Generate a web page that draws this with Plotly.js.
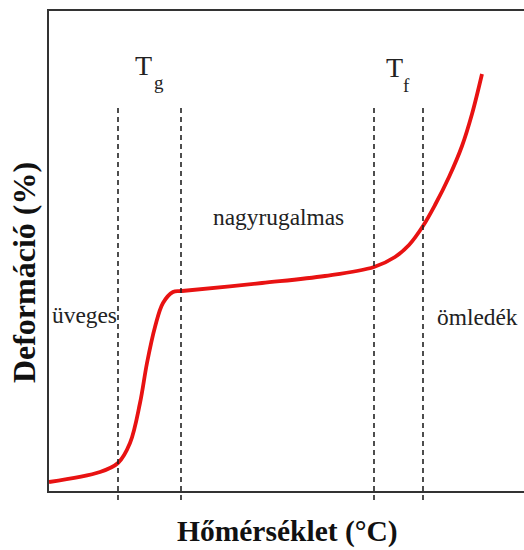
<!DOCTYPE html>
<html>
<head>
<meta charset="utf-8">
<script src="https://cdn.plot.ly/plotly-3.0.1.min.js"></script>
<style>html,body{margin:0;padding:0;background:#fff;}#chart{width:524px;height:550px;}</style>
</head>
<body>
<div id="chart"></div>
<script>
// Curve data (arbitrary units)
const temperature = [0, 51, 69, 81, 91, 98, 106, 114, 124, 133, 213, 276, 325, 346, 360, 374, 386, 400, 413, 423, 433];
const deformation = [9, 19, 28, 48, 88, 128, 164, 188, 199, 200, 208, 215, 224, 234, 246, 265, 286, 314, 345, 377, 417];

// Transition boundaries (dashed lines)
const glassTransition = [69, 132];
const flowTransition = [325, 374];

// Texts
const regionLabels = ["üveges", "nagyrugalmas", "ömledék"];
const transitionSymbols = ["T", "T"];
const transitionSubscripts = ["g", "f"];
const xTitle = "Hőmérséklet (°C)";
const yTitle = "Deformáció (%)";

const serif = "Liberation Serif";
const txt = (text, x, y, size) => ({
  text: text, x: x, y: y, xref: "x", yref: "y", showarrow: false,
  xanchor: "center", yanchor: "middle",
  font: {family: serif, size: size, color: "#222"}
});

const dashed = [...glassTransition, ...flowTransition].map(v => ({
  type: "line", xref: "x", yref: "paper", x0: v, x1: v, y0: -0.019, y1: 0.804,
  line: {color: "#222", width: 1.6, dash: "5px,4px"}
}));

const trace = {
  x: temperature, y: deformation, type: "scatter", mode: "lines",
  line: {color: "rgb(232,18,18)", width: 3.8, shape: "spline", smoothing: 1},
  hoverinfo: "skip"
};

const layout = {
  width: 524, height: 550,
  margin: {l: 49, r: 0, t: 11, b: 59},
  paper_bgcolor: "#fff", plot_bgcolor: "#fff",
  showlegend: false,
  font: {family: serif},
  xaxis: {range: [0, 475], showgrid: false, zeroline: false, showticklabels: false, ticks: "",
          showline: true, mirror: true, linecolor: "#333", linewidth: 2, fixedrange: true},
  yaxis: {range: [0, 480], showgrid: false, zeroline: false, showticklabels: false, ticks: "",
          showline: true, mirror: false, linecolor: "#333", linewidth: 2, fixedrange: true},
  shapes: dashed,
  annotations: [
    txt(regionLabels[0], 35.5, 176, 23.4),
    txt(regionLabels[1], 229.5, 274, 23.4),
    txt(regionLabels[2], 428.5, 174, 23.4),
    txt(transitionSymbols[0], 94.5, 426, 28),
    txt(transitionSubscripts[0], 110, 408.4, 19),
    txt(transitionSymbols[1], 345, 424, 28),
    txt(transitionSubscripts[1], 357, 405.4, 19),
    {text: "<b>" + xTitle + "</b>", xref: "paper", yref: "paper", x: 0.503, y: -0.0854, showarrow: false,
     xanchor: "center", yanchor: "middle", font: {family: serif, size: 29.5, color: "#111"}},
    {text: "<b>" + yTitle + "</b>", xref: "paper", yref: "paper", x: -0.0526, y: 0.454, showarrow: false, textangle: -90,
     xanchor: "center", yanchor: "middle", font: {family: serif, size: 32, color: "#111"}}
  ]
};

Plotly.newPlot("chart", [trace], layout, {displayModeBar: false, staticPlot: true});
</script>
</body>
</html>
